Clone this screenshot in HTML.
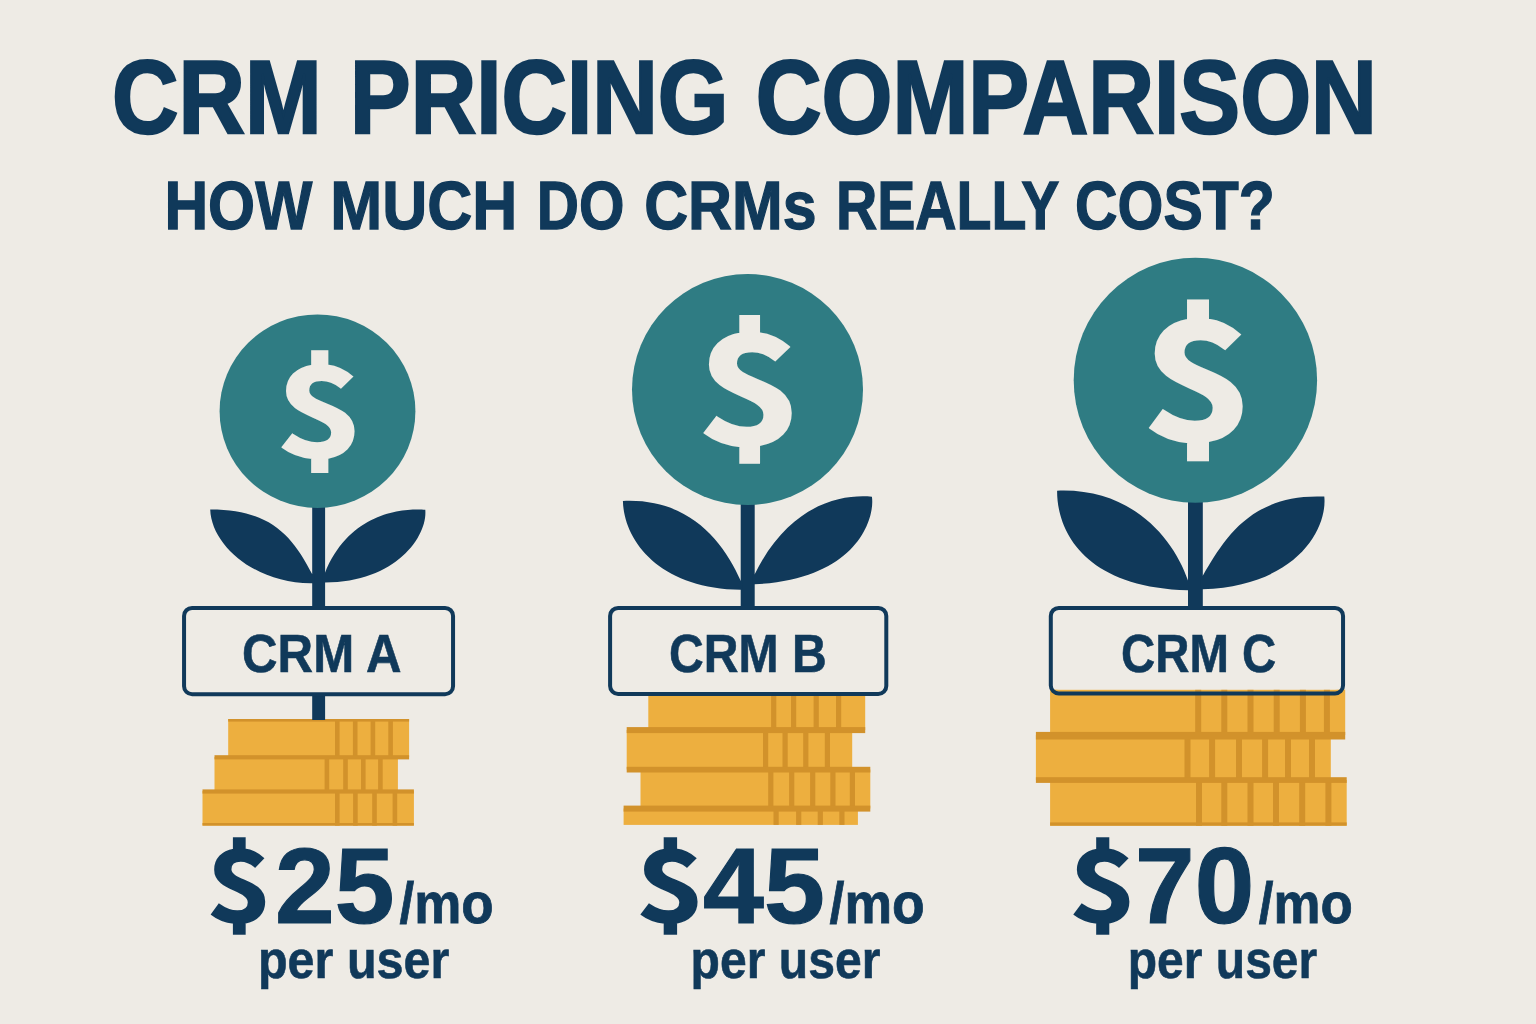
<!DOCTYPE html>
<html lang="en">
<head>
<meta charset="utf-8">
<title>CRM Pricing Comparison</title>
<style>
  html, body { margin: 0; padding: 0; background: #EEEBE5; }
  body { width: 1536px; height: 1024px; overflow: hidden; }
  svg { display: block; }
  text { font-family: "Liberation Sans", sans-serif; font-weight: bold; fill: #10395A; stroke-linejoin: miter; }
  text.usd, text.coin { font-family: "Noto Sans CJK JP", "Liberation Sans", sans-serif; }
  text.coin { fill: #EEEBE5; }
  .teal { fill: #2F7C83; }
  .navy { fill: #10395A; }
  .gold { fill: #EDAF3F; }
  .dgold { fill: #D2922B; }
  .box { fill: none; stroke: #10395A; stroke-width: 4; }
  .boxfill { fill: #EEEBE5; }
</style>
</head>
<body>
<svg width="1536" height="1024" viewBox="0 0 1536 1024">
  <rect x="0" y="0" width="1536" height="1024" fill="#EEEBE5"/>

  <!-- ===== Headings ===== -->
  <text id="title" y="132.6" font-size="103.6" stroke="#10395A" stroke-width="2.4"><tspan x="112.0" textLength="209.7" lengthAdjust="spacingAndGlyphs">CRM</tspan> <tspan x="350.1" textLength="378.4" lengthAdjust="spacingAndGlyphs">PRICING</tspan> <tspan x="755.7" textLength="621.2" lengthAdjust="spacingAndGlyphs">COMPARISON</tspan></text>
  <text id="subtitle" y="228.8" font-size="68.6" stroke="#10395A" stroke-width="1.3"><tspan x="164.4" textLength="147.9" lengthAdjust="spacingAndGlyphs">HOW</tspan> <tspan x="330.3" textLength="187.1" lengthAdjust="spacingAndGlyphs">MUCH</tspan> <tspan x="536.7" textLength="87.7" lengthAdjust="spacingAndGlyphs">DO</tspan> <tspan x="644.2" textLength="172.4" lengthAdjust="spacingAndGlyphs">CRMs</tspan> <tspan x="836.0" textLength="222.2" lengthAdjust="spacingAndGlyphs">REALLY</tspan> <tspan x="1075.0" textLength="199.7" lengthAdjust="spacingAndGlyphs">COST?</tspan></text>

  <!-- ===== Coin stacks ===== -->
  <g id="coinsA">
    <rect class="gold" x="228.2" y="719" width="180.9" height="38.0"/>
    <rect class="dgold" x="335.0" y="719" width="4.6" height="38.0"/>
    <rect class="dgold" x="352.9" y="719" width="4.6" height="38.0"/>
    <rect class="dgold" x="370.6" y="719" width="4.6" height="38.0"/>
    <rect class="dgold" x="388.3" y="719" width="4.6" height="38.0"/>
    <rect class="gold" x="214.5" y="757" width="183.4" height="34.0"/>
    <rect class="dgold" x="324.6" y="757" width="4.6" height="34.0"/>
    <rect class="dgold" x="343.2" y="757" width="4.6" height="34.0"/>
    <rect class="dgold" x="361.0" y="757" width="4.6" height="34.0"/>
    <rect class="dgold" x="378.1" y="757" width="4.6" height="34.0"/>
    <rect class="gold" x="202.5" y="791" width="211.4" height="34.6"/>
    <rect class="dgold" x="335.0" y="791" width="4.6" height="34.6"/>
    <rect class="dgold" x="353.1" y="791" width="4.6" height="34.6"/>
    <rect class="dgold" x="372.2" y="791" width="4.6" height="34.6"/>
    <rect class="dgold" x="392.6" y="791" width="4.6" height="34.6"/>
    <rect class="dgold" x="228.2" y="719" width="180.9" height="2.6"/>
    <rect class="dgold" x="214.5" y="755.2" width="194.6" height="4.2"/>
    <rect class="dgold" x="202.5" y="789.4" width="211.4" height="4.2"/>
    <rect class="dgold" x="202.5" y="823" width="211.4" height="2.6"/>
  </g>
  <g id="coinsB">
    <rect class="gold" x="648.3" y="690" width="216.9" height="40.0"/>
    <rect class="dgold" x="771.1" y="690" width="5.2" height="40.0"/>
    <rect class="dgold" x="791.0" y="690" width="5.2" height="40.0"/>
    <rect class="dgold" x="813.6" y="690" width="5.2" height="40.0"/>
    <rect class="dgold" x="836.0" y="690" width="5.2" height="40.0"/>
    <rect class="gold" x="626.7" y="730" width="225.5" height="39.5"/>
    <rect class="dgold" x="763.0" y="730" width="5.2" height="39.5"/>
    <rect class="dgold" x="782.5" y="730" width="5.2" height="39.5"/>
    <rect class="dgold" x="803.2" y="730" width="5.2" height="39.5"/>
    <rect class="dgold" x="824.8" y="730" width="5.2" height="39.5"/>
    <rect class="gold" x="640.5" y="769.5" width="229.8" height="39.0"/>
    <rect class="dgold" x="768.2" y="769.5" width="5.2" height="39.0"/>
    <rect class="dgold" x="789.1" y="769.5" width="5.2" height="39.0"/>
    <rect class="dgold" x="810.1" y="769.5" width="5.2" height="39.0"/>
    <rect class="dgold" x="830.3" y="769.5" width="5.2" height="39.0"/>
    <rect class="dgold" x="849.8" y="769.5" width="5.2" height="39.0"/>
    <rect class="gold" x="623.6" y="808.5" width="234.3" height="16.4"/>
    <rect class="dgold" x="773.5" y="808.5" width="5.2" height="16.4"/>
    <rect class="dgold" x="796.1" y="808.5" width="5.2" height="16.4"/>
    <rect class="dgold" x="817.7" y="808.5" width="5.2" height="16.4"/>
    <rect class="dgold" x="839.3" y="808.5" width="5.2" height="16.4"/>
    <rect class="dgold" x="626.7" y="727.1" width="238.5" height="6.0"/>
    <rect class="dgold" x="626.7" y="766.8" width="243.6" height="5.7"/>
    <rect class="dgold" x="623.6" y="805.6" width="246.7" height="6.0"/>
  </g>
  <g id="coinsC">
    <rect class="gold" x="1050.1" y="689.6" width="295.1" height="45.4"/>
    <rect class="dgold" x="1195.2" y="689.6" width="6.0" height="45.4"/>
    <rect class="dgold" x="1221.3" y="689.6" width="6.0" height="45.4"/>
    <rect class="dgold" x="1247.5" y="689.6" width="6.0" height="45.4"/>
    <rect class="dgold" x="1273.7" y="689.6" width="6.0" height="45.4"/>
    <rect class="dgold" x="1299.9" y="689.6" width="6.0" height="45.4"/>
    <rect class="dgold" x="1323.9" y="689.6" width="6.0" height="45.4"/>
    <rect class="gold" x="1035.9" y="735" width="294.9" height="45.0"/>
    <rect class="dgold" x="1184.5" y="735" width="6.0" height="45.0"/>
    <rect class="dgold" x="1209.1" y="735" width="6.0" height="45.0"/>
    <rect class="dgold" x="1236.0" y="735" width="6.0" height="45.0"/>
    <rect class="dgold" x="1262.1" y="735" width="6.0" height="45.0"/>
    <rect class="dgold" x="1285.0" y="735" width="6.0" height="45.0"/>
    <rect class="dgold" x="1309.0" y="735" width="6.0" height="45.0"/>
    <rect class="gold" x="1050.1" y="780" width="296.6" height="45.7"/>
    <rect class="dgold" x="1196.0" y="780" width="6.0" height="45.7"/>
    <rect class="dgold" x="1221.3" y="780" width="6.0" height="45.7"/>
    <rect class="dgold" x="1247.5" y="780" width="6.0" height="45.7"/>
    <rect class="dgold" x="1273.0" y="780" width="6.0" height="45.7"/>
    <rect class="dgold" x="1299.2" y="780" width="6.0" height="45.7"/>
    <rect class="dgold" x="1325.4" y="780" width="6.0" height="45.7"/>
    <rect class="dgold" x="1035.9" y="731.9" width="309.3" height="7.6"/>
    <rect class="dgold" x="1035.9" y="777.2" width="310.8" height="5.7"/>
    <rect class="dgold" x="1050.1" y="822.4" width="296.6" height="3.3"/>
  </g>

  <!-- ===== Plants ===== -->
  <g id="plantA">
    <rect class="navy" x="312.2" y="500" width="12.9" height="220"/>
    <path class="navy" d="M210.2 509.4 C268.8 509.3 291.9 534.3 312.1 574.0 L314.1 574.0 L314.1 583.3 L312.1 583.3 C258.1 584.0 211.6 547.2 210.2 509.4Z"/>
    <path class="navy" d="M425.3 509.8 C407.0 508.4 350.8 509.4 324.9 573.1 L322.9 573.1 L322.9 582.5 L324.9 582.5 C395.9 582.4 427.7 536.4 425.3 509.8Z"/>
    <ellipse class="teal" cx="317.5" cy="411.2" rx="97.9" ry="96.7"/>
    <text id="dA" class="coin" x="275.7" y="456.5" font-size="124.8" textLength="87.9" lengthAdjust="spacingAndGlyphs" stroke="#EEEBE5" stroke-width="2.0">$</text>
  </g>
  <g id="plantB">
    <rect class="navy" x="740.7" y="498" width="14.0" height="110"/>
    <path class="navy" d="M622.9 501.0 C690.3 498.0 723.6 542.2 740.7 580.7 L742.7 580.7 L742.7 589.8 L740.7 589.8 C660.4 588.8 624.0 541.7 622.9 501.0Z"/>
    <path class="navy" d="M871.9 496.8 C841.7 493.9 789.0 504.0 754.7 574.3 L752.7 574.3 L752.7 584.3 L754.7 584.3 C860.3 579.2 875.0 515.4 871.9 496.8Z"/>
    <ellipse class="teal" cx="747.5" cy="389.5" rx="115.5" ry="115.5"/>
    <text id="dB" class="coin" x="696.6" y="444.4" font-size="150.6" textLength="106.2" lengthAdjust="spacingAndGlyphs" stroke="#EEEBE5" stroke-width="2.4">$</text>
  </g>
  <g id="plantC">
    <rect class="navy" x="1188.0" y="495" width="14.8" height="113"/>
    <path class="navy" d="M1057.1 490.7 C1132.1 487.6 1173.6 538.6 1188.0 580.5 L1190.0 580.5 L1190.0 590.3 L1188.0 590.3 C1083.9 587.5 1056.9 530.8 1057.1 490.7Z"/>
    <path class="navy" d="M1324.3 496.6 C1250.8 493.4 1224.4 538.9 1202.8 575.7 L1200.8 575.7 L1200.8 589.3 L1202.8 589.3 C1298.1 585.6 1327.5 527.9 1324.3 496.6Z"/>
    <ellipse class="teal" cx="1195.4" cy="380.25" rx="121.7" ry="122.5"/>
    <text id="dC" class="coin" x="1141.6" y="440.3" font-size="164.9" textLength="112.9" lengthAdjust="spacingAndGlyphs" stroke="#EEEBE5" stroke-width="2.6">$</text>
  </g>

  <!-- ===== Label boxes ===== -->
  <g id="labelA">
    <rect class="boxfill" x="184.06" y="607.9" width="268.99" height="86.6" rx="8" ry="8"/>
    <rect class="box" x="184.06" y="607.9" width="268.99" height="86.25" rx="8" ry="8"/>
    <text id="lA" x="242.1" y="671.5" font-size="54.4" textLength="159.4" lengthAdjust="spacingAndGlyphs" stroke="#10395A" stroke-width="0.6">CRM A</text>
  </g>
  <g id="labelB">
    <rect class="boxfill" x="610.10" y="607.9" width="276.20" height="86.6" rx="8" ry="8"/>
    <rect class="box" x="610.10" y="607.9" width="276.20" height="86.10" rx="8" ry="8"/>
    <text id="lB" x="669.1" y="671.5" font-size="54.4" textLength="157.7" lengthAdjust="spacingAndGlyphs" stroke="#10395A" stroke-width="0.6">CRM B</text>
  </g>
  <g id="labelC">
    <rect class="boxfill" x="1050.80" y="607.9" width="292.25" height="81.7" rx="8" ry="8"/>
    <rect class="box" x="1050.80" y="607.9" width="292.25" height="85.60" rx="8" ry="8"/>
    <text id="lC" x="1121.0" y="671.5" font-size="54.4" textLength="155.2" lengthAdjust="spacingAndGlyphs" stroke="#10395A" stroke-width="0.6">CRM C</text>
  </g>

  <!-- ===== Prices ===== -->
  <g id="priceA">
    <text id="sA" class="usd" x="206.5" y="921.6" font-size="99.5" textLength="65.5" lengthAdjust="spacingAndGlyphs" stroke="#10395A" stroke-width="1.6">$</text>
    <text id="pA" x="275.0" y="922.7" font-size="108.4" textLength="119.4" lengthAdjust="spacingAndGlyphs" stroke="#10395A" stroke-width="1.2">25</text>
    <text id="mA" x="399.5" y="922.8" font-size="57.0" textLength="94.2" lengthAdjust="spacingAndGlyphs" stroke="#10395A" stroke-width="0.8">/mo</text>
    <text id="uA" x="257.9" y="977.9" font-size="53.6" textLength="191.5" lengthAdjust="spacingAndGlyphs" stroke="#10395A" stroke-width="0.6">per user</text>
  </g>
  <g id="priceB">
    <text id="sB" class="usd" x="635.9" y="921.6" font-size="99.5" textLength="68.7" lengthAdjust="spacingAndGlyphs" stroke="#10395A" stroke-width="1.6">$</text>
    <text id="pB" x="703.1" y="922.7" font-size="108.4" textLength="121.7" lengthAdjust="spacingAndGlyphs" stroke="#10395A" stroke-width="1.2">45</text>
    <text id="mB" x="829.5" y="922.8" font-size="57.0" textLength="95.2" lengthAdjust="spacingAndGlyphs" stroke="#10395A" stroke-width="0.8">/mo</text>
    <text id="uB" x="690.6" y="977.9" font-size="53.6" textLength="189.8" lengthAdjust="spacingAndGlyphs" stroke="#10395A" stroke-width="0.6">per user</text>
  </g>
  <g id="priceC">
    <text id="sC" class="usd" x="1069.0" y="921.6" font-size="99.5" textLength="67.4" lengthAdjust="spacingAndGlyphs" stroke="#10395A" stroke-width="1.6">$</text>
    <text id="pC" x="1135.1" y="922.7" font-size="108.4" textLength="119.1" lengthAdjust="spacingAndGlyphs" stroke="#10395A" stroke-width="1.2">70</text>
    <text id="mC" x="1258.7" y="922.8" font-size="57.0" textLength="94.0" lengthAdjust="spacingAndGlyphs" stroke="#10395A" stroke-width="0.8">/mo</text>
    <text id="uC" x="1127.8" y="977.9" font-size="53.6" textLength="189.4" lengthAdjust="spacingAndGlyphs" stroke="#10395A" stroke-width="0.6">per user</text>
  </g>
</svg>
</body>
</html>
